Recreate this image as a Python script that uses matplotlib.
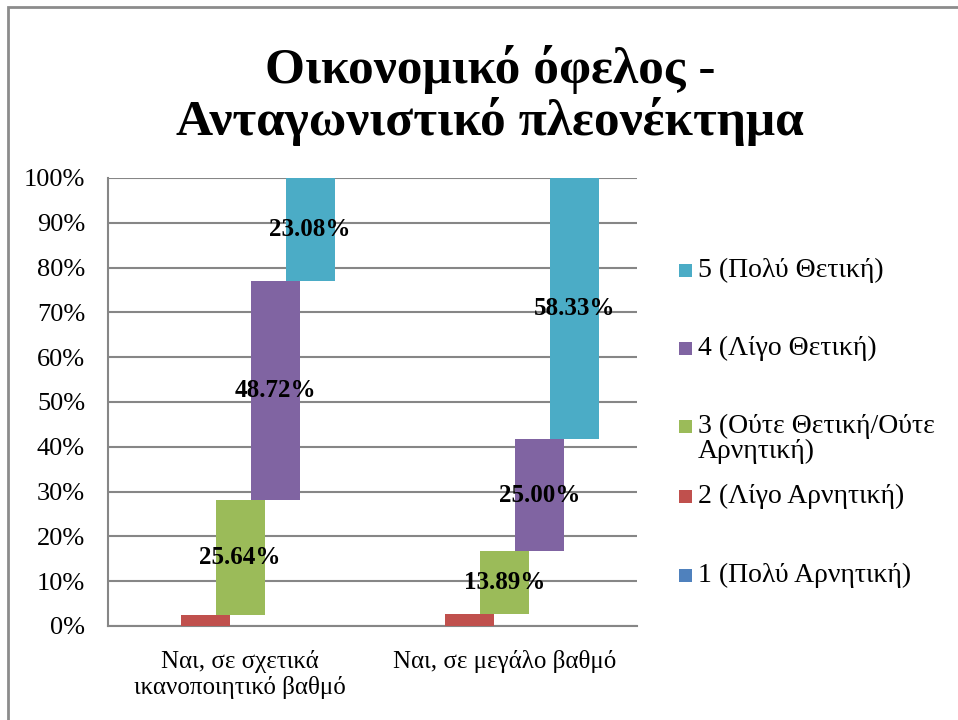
import numpy as np
import matplotlib.pyplot as plt
from matplotlib.patches import Rectangle

categories = ["Ναι, σε σχετικά\nικανοποιητικό βαθμό", "Ναι, σε μεγάλο βαθμό"]
series_names = ["1 (Πολύ Αρνητική)", "2 (Λίγο Αρνητική)",
                "3 (Ούτε Θετική/Ούτε\nΑρνητική)", "4 (Λίγο Θετική)", "5 (Πολύ Θετική)"]
series_colors = ["#4F81BD", "#C0504D", "#9BBB59", "#8064A2", "#4BACC6"]
# share of answers per category, one row per series (1..5)
values = np.array([
    [0.00, 0.00],
    [2.56, 2.78],
    [25.64, 13.89],
    [48.72, 25.00],
    [23.08, 58.33],
])
labelled = [False, False, True, True, True]

plt.rcParams['font.family'] = ['Liberation Serif', 'DejaVu Serif']

W, H = 958, 720
fig = plt.figure(figsize=(W / 100, H / 100), dpi=100)
ax = fig.add_axes([108 / W, 1 - 626 / H, (637 - 108) / W, (626 - 178) / H])

x = np.arange(len(categories))
width = 0.185
step = 0.1323
bottoms = np.vstack([np.zeros(len(categories)), np.cumsum(values, axis=0)[:-1]])

for i in range(len(series_names)):
    pos = x + (i - 2) * step
    ax.bar(pos, values[i], width, bottom=bottoms[i], color=series_colors[i],
           label=series_names[i], zorder=3)
    if labelled[i]:
        for px, b, v in zip(pos, bottoms[i], values[i]):
            ax.text(px, b + v / 2, f"{v:.2f}%", ha='center', va='center',
                    fontsize=18, fontweight='bold', zorder=4)

ax.set_xlim(-0.5, 1.5)
ax.set_ylim(0, 100)
ax.set_yticks(np.arange(0, 101, 10))
ax.set_yticklabels([f"{t}%" for t in range(0, 101, 10)], fontsize=19)
ax.set_xticks(x)
ax.set_xticklabels(categories, fontsize=18)
ax.tick_params(axis='x', length=0, pad=17)
ax.tick_params(axis='y', length=0, pad=16.5)
ax.yaxis.grid(True, color='#868686', linewidth=1.5, zorder=0)
for s in ['top', 'right']:
    ax.spines[s].set_visible(False)
for s in ['left', 'bottom']:
    ax.spines[s].set_color('#868686')
    ax.spines[s].set_linewidth(1.5)

# legend, top entry is series 5; rows are laid out by hand
legend_rows = [271, 349, 427, 497, 576]
for row_y, i in zip(legend_rows, range(len(series_names) - 1, -1, -1)):
    fig.patches.append(Rectangle((679 / W, 1 - (row_y + 6) / H), 13 / W, 13 / H,
                                 transform=fig.transFigure,
                                 facecolor=series_colors[i], edgecolor='none'))
    fig.text(698 / W, 1 - (row_y - 13) / H, series_names[i], ha='left', va='top',
             fontsize=20, linespacing=1.0)

fig.text(490 / W, 1 - 70 / H, "Οικονομικό όφελος -", ha='center', va='center',
         fontsize=37, fontweight='bold')
fig.text(490 / W, 1 - 122 / H, "Ανταγωνιστικό πλεονέκτημα", ha='center', va='center',
         fontsize=37, fontweight='bold')

fig.patches.append(Rectangle((8 / W, -0.1), 1.2, 1 - 7 / H + 0.1,
                             transform=fig.transFigure, fill=False,
                             edgecolor='#8c8c8c', linewidth=2))

fig.savefig("out.png", dpi=100)
